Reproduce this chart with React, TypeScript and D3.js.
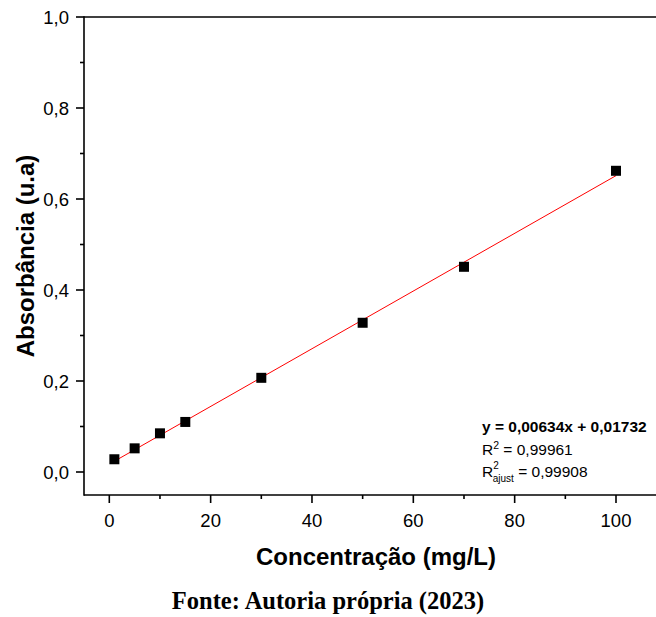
import React from "react";
import * as d3 from "d3";

const concentrations = [1, 5, 10, 15, 30, 50, 70, 100];
const absorbances = [0.028, 0.052, 0.085, 0.11, 0.207, 0.328, 0.451, 0.662];
const slope = 0.00634;
const intercept = 0.01732;
const xTicks = [0, 20, 40, 60, 80, 100];
const xMinor = [10, 30, 50, 70, 90, 110];
const yTicks = [0, 0.2, 0.4, 0.6, 0.8, 1.0];
const yMinor = [0.1, 0.3, 0.5, 0.7, 0.9];

export default function App() {
  const W = 656, H = 617;
  const left = 84, top = 17, bottom = 495;
  const x = d3.scaleLinear().domain([0, 100]).range([109.3, 616]);
  const y = d3.scaleLinear().domain([0, 1]).range([472, 17]);
  const fmt = (v: number) => d3.format(".1f")(v).replace(".", ",");
  const line = d3.line<number>().x((d) => x(d)).y((d) => y(slope * d + intercept));
  const font = "Arial, 'Liberation Sans', sans-serif";
  return (
    <svg width={W} height={H} style={{ position: "absolute", left: 0, top: 0, background: "#fff" }} fontFamily={font}>
      <rect width={W} height={H} fill="#fff" />
      {/* axes */}
      <line x1={left} x2={W} y1={top} y2={top} stroke="#000" strokeWidth={1.6} />
      <line x1={left} x2={left} y1={top - 0.8} y2={bottom + 0.8} stroke="#000" strokeWidth={1.6} />
      <line x1={left} x2={W} y1={bottom} y2={bottom} stroke="#000" strokeWidth={1.6} />
      {xTicks.map((t) => (
        <g key={"xt" + t}>
          <line x1={x(t)} x2={x(t)} y1={bottom} y2={bottom + 8} stroke="#000" strokeWidth={1.6} />
          <text x={x(t)} y={527} textAnchor="middle" fontSize={18.5}>{t}</text>
        </g>
      ))}
      {xMinor.map((t) => (
        <line key={"xm" + t} x1={x(t)} x2={x(t)} y1={bottom} y2={bottom + 4} stroke="#000" strokeWidth={1.6} />
      ))}
      {yTicks.map((t) => (
        <g key={"yt" + t}>
          <line x1={left - 8} x2={left} y1={y(t)} y2={y(t)} stroke="#000" strokeWidth={1.6} />
          <text x={69} y={y(t) + 6.6} textAnchor="end" fontSize={18.5}>{fmt(t)}</text>
        </g>
      ))}
      {yMinor.map((t) => (
        <line key={"ym" + t} x1={left - 4} x2={left} y1={y(t)} y2={y(t)} stroke="#000" strokeWidth={1.6} />
      ))}
      {/* fit line */}
      <path d={line([1, 100]) || ""} stroke="#ff0000" strokeWidth={1} fill="none" />
      {/* points */}
      {concentrations.map((c, i) => (
        <rect key={"p" + i} x={x(c) - 5} y={y(absorbances[i]) - 5} width={10} height={10} fill="#000" />
      ))}
      {/* annotation */}
      <text x={482} y={432} fontSize={15.5} fontWeight="bold">y = 0,00634x + 0,01732</text>
      <text x={482} y={455} fontSize={15.5}>R<tspan dy={-6} fontSize={10.5}>2</tspan><tspan dy={6}> = 0,99961</tspan></text>
      <text x={482} y={477} fontSize={15.5}>R<tspan dy={-8} fontSize={10}>2</tspan><tspan dy={13} dx={-6} fontSize={10}>ajust</tspan><tspan dy={-5}> = 0,99908</tspan></text>
      {/* titles */}
      <text x={376} y={565} textAnchor="middle" fontSize={24} fontWeight="bold">Concentração (mg/L)</text>
      <text transform={`translate(34,256) rotate(-90)`} textAnchor="middle" fontSize={24} fontWeight="bold">Absorbância (u.a)</text>
      <text x={328} y={609} textAnchor="middle" fontSize={24.5} fontWeight="bold" fontFamily="'Liberation Serif', 'Times New Roman', serif">Fonte: Autoria própria (2023)</text>
    </svg>
  );
}
